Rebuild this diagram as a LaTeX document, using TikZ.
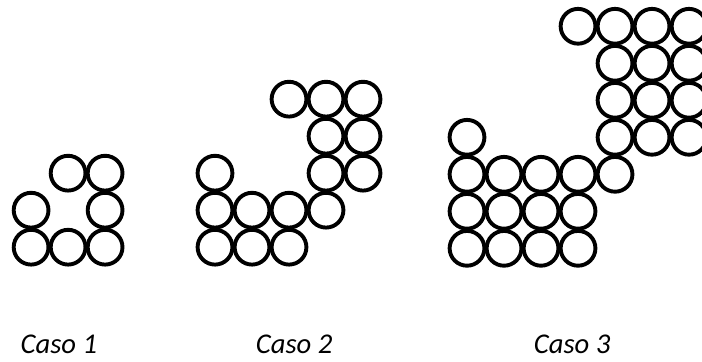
\documentclass[tikz,border=0pt]{standalone}
\usepackage{fontspec}
\setmainfont{Carlito}
\usepackage{tikz}
\tikzset{ball/.style={line width=3pt, black}, caso/.style={anchor=base, font=\fontsize{22}{26}\itshape}}

\begin{document}
\begin{tikzpicture}
        \useasboundingbox (0,0) rectangle (18.97,9.76);

        % Caso 1
        \begin{scope}[shift={(0.84,3.08)}]
            \foreach \x/\y in {0/0,1/0,2/0,0/1,2/1,1/2,2/2}
                \draw[ball] (\x,\y) circle[radius=0.47];
        \end{scope}

        % Caso 2
        \begin{scope}[shift={(5.81,3.08)}]
            \foreach \x/\y in {0/0,1/0,2/0,0/1,1/1,2/1,3/1,0/2,3/2,4/2,3/3,4/3,2/4,3/4,4/4}
                \draw[ball] (\x,\y) circle[radius=0.47];
        \end{scope}

        % Caso 3
        \begin{scope}[shift={(12.62,3.05)}]
            \foreach \x in {0,...,3} {
                \draw[ball] (\x,0) circle[radius=0.47];
                \draw[ball] (\x,1) circle[radius=0.47];
            }
            \foreach \x/\y in {0/2,1/2,2/2,3/2,4/2,0/3,4/3,5/3,6/3,4/4,5/4,6/4,4/5,5/5,6/5,3/6,4/6,5/6,6/6}
                \draw[ball] (\x,\y) circle[radius=0.47];
        \end{scope}

        \node[caso] (caso1) at (1.59,0.2) {Caso 1};
        \node[caso] (caso2) at (7.95,0.2) {Caso 2};
        \node[caso] (caso3) at (15.46,0.2) {Caso 3};
    \end{tikzpicture}
\end{document}
